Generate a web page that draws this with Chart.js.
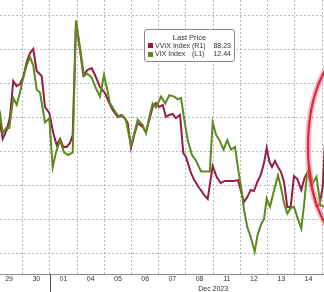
<!DOCTYPE html>
<html><head><meta charset="utf-8">
<script src="https://cdn.jsdelivr.net/npm/chart.js@4.4.1/dist/chart.umd.min.js"></script>
<style>
html,body{margin:0;padding:0;background:#fff;}
#wrap{position:relative;width:324px;height:292px;overflow:hidden;}
canvas{display:block;}
#legend{position:absolute;left:144px;top:29px;width:89px;height:31px;border:1px solid #8a8a8a;border-radius:3px;background:#fff;font-family:"Liberation Sans",Arial,sans-serif;color:#333;}
#legend span{position:absolute;height:9px;line-height:9px;white-space:nowrap;}
.sw{width:5px;height:5px !important;}
</style>
</head><body>
<div id="wrap">
<canvas id="c" width="324" height="292"></canvas>
<div id="legend">
  <span style="left:0;width:89px;text-align:center;top:3px;font-size:7.5px;">Last Price</span>
  <span class="sw" style="left:3px;top:13px;background:#961e3e;"></span>
  <span style="left:10px;top:10.5px;font-size:7px;">VVIX Index</span>
  <span style="left:47px;top:10.5px;font-size:7px;">(R1)</span>
  <span style="right:3px;top:10.5px;font-size:7px;">88.23</span>
  <span class="sw" style="left:3px;top:21.5px;background:#5c8a1e;"></span>
  <span style="left:10px;top:19.3px;font-size:7px;">VIX Index</span>
  <span style="left:47px;top:19.3px;font-size:7px;">(L1)</span>
  <span style="right:3px;top:19.3px;font-size:7px;">12.44</span>
</div>
</div>
<script>
const dayLabels = ['29','30','01','04','05','06','07','08','11','12','13','14'];
const monthLabel = 'Dec 2023';
const vixGrid = [11.75,12,12.25,12.5,12.75,13,13.25,13.5];

const vixTime = [-0.463,-0.334,-0.235,-0.114,0.007,0.154,0.279,0.401,0.522,0.647,
0.768,0.889,1.014,1.136,1.319,1.477,1.602,1.724,1.871,2.018,
2.176,2.337,2.459,2.606,2.753,2.874,3.036,3.194,3.341,3.488,
3.598,3.708,3.807,3.929,4.050,4.175,4.296,4.480,4.601,4.726,
4.910,5.031,5.152,5.277,5.399,5.583,5.741,5.887,6.071,6.196,
6.318,6.439,6.564,6.722,6.869,7.052,7.236,7.375,7.482,7.604,
7.732,7.880,8.019,8.155,8.302,8.431,8.523,8.633,8.754,8.879,
9.026,9.129,9.258,9.368,9.467,9.588,9.735,9.882,9.993,10.103,
10.224,10.349,10.470,10.599,10.739,10.838,10.937,11.040,11.150,11.297,
11.444,11.573,11.701];
const vixValues = [12.88,12.78,12.63,12.67,12.67,12.89,12.84,12.93,13.04,13.13,
13.19,13.13,12.95,12.93,12.71,12.74,12.38,12.49,12.58,12.49,
12.47,12.49,13.46,13.26,13.05,13.07,13.04,12.96,12.90,13.06,
12.96,12.85,12.82,12.78,12.75,12.76,12.73,12.54,12.63,12.73,
12.69,12.63,12.75,12.85,12.82,12.90,12.85,12.91,12.90,12.88,
12.89,12.73,12.58,12.47,12.43,12.35,12.35,12.35,12.71,12.62,
12.58,12.51,12.58,12.51,12.53,12.35,12.24,12.07,11.94,11.87,
11.76,11.88,11.96,12.00,12.15,12.09,12.21,12.32,12.23,12.12,
12.04,12.08,12.09,12.01,11.93,12.10,12.31,12.38,12.26,12.31,
12.10,12.09,12.10];

const vvixTime = [-0.463,-0.334,-0.235,-0.088,0.033,0.154,0.279,0.401,0.522,0.647,
0.768,0.889,1.014,1.198,1.319,1.477,1.624,1.749,1.871,1.992,
2.117,2.238,2.337,2.459,2.606,2.727,2.874,3.036,3.157,3.341,
3.524,3.682,3.807,3.991,4.112,4.234,4.359,4.480,4.601,4.726,
4.910,5.031,5.152,5.277,5.399,5.520,5.645,5.766,5.887,6.012,
6.134,6.281,6.402,6.501,6.685,6.806,6.990,7.174,7.299,7.482,
7.630,7.777,7.935,8.118,8.265,8.412,8.512,8.633,8.754,8.879,
9.000,9.122,9.247,9.368,9.467,9.570,9.662,9.772,9.882,9.993,
10.103,10.224,10.349,10.470,10.592,10.739,10.856,10.967,11.058,11.169,
11.290,11.407,11.525,11.647];
const vvixValues = [88.29,87.65,86.71,87.24,88.00,90.12,89.82,89.94,90.35,91.24,
91.76,92.00,90.71,90.41,88.59,88.24,87.06,86.35,86.71,86.24,
86.24,86.47,86.94,93.65,91.94,90.47,90.76,90.88,90.47,89.76,
89.41,88.82,88.41,88.00,88.12,87.94,87.65,86.18,86.94,87.65,
87.41,87.12,87.82,88.59,88.82,88.59,88.71,88.00,88.12,88.18,
87.94,88.12,85.88,85.65,84.71,84.29,83.82,83.41,83.18,85.12,
84.47,84.12,84.24,84.24,84.24,84.29,83.71,83.00,83.29,83.71,
83.65,84.18,84.59,85.29,86.18,85.35,85.06,85.41,85.06,84.76,
84.18,82.71,82.71,84.53,84.35,83.71,84.41,84.76,84.29,83.59,
82.76,82.82,83.88,87.82];

const FONT = '"Liberation Sans", Arial, sans-serif';

const decor = {
  id: 'decor',
  afterDraw(chart) {
    const {ctx, chartArea, scales: {x, y}} = chart;
    ctx.save();
    const sx = Math.round(x.getPixelForValue(1.5)) + 0.5;
    ctx.strokeStyle = '#555';
    ctx.lineWidth = 1;
    ctx.beginPath();
    ctx.moveTo(sx, chartArea.bottom);
    ctx.lineTo(sx, chart.height);
    ctx.stroke();
    ctx.fillStyle = '#333';
    ctx.font = '7px ' + FONT;
    ctx.textAlign = 'center';
    ctx.textBaseline = 'middle';
    ctx.fillText(monthLabel, x.getPixelForValue(7.5), chartArea.bottom + 15);
    const cx = x.getPixelForValue(12.53), cy = y.getPixelForValue(12.53);
    ctx.beginPath();
    ctx.ellipse(cx, cy, 42, 95, 0, 0, Math.PI * 2);
    ctx.strokeStyle = 'rgba(250,130,150,0.5)';
    ctx.lineWidth = 6;
    ctx.stroke();
    ctx.beginPath();
    ctx.ellipse(cx, cy, 42, 95, 0, 0, Math.PI * 2);
    ctx.strokeStyle = '#e0263c';
    ctx.lineWidth = 2.2;
    ctx.stroke();
    ctx.restore();
  }
};

new Chart(document.getElementById('c'), {
  type: 'line',
  data: {
    datasets: [
      {
        label: 'VIX Index (L1)',
        data: vixTime.map((t, i) => ({x: t, y: vixValues[i]})),
        borderColor: '#5c8a1e',
        borderWidth: 2,
        pointRadius: 0,
        tension: 0,
        yAxisID: 'y'
      },
      {
        label: 'VVIX Index (R1)',
        data: vvixTime.map((t, i) => ({x: t, y: vvixValues[i]})),
        borderColor: '#961e3e',
        borderWidth: 2,
        pointRadius: 0,
        tension: 0,
        yAxisID: 'y1'
      }
    ]
  },
  options: {
    responsive: false,
    devicePixelRatio: 1,
    animation: false,
    layout: {padding: 0},
    plugins: {legend: {display: false}, tooltip: {enabled: false}},
    scales: {
      x: {
        type: 'linear',
        position: 'bottom',
        min: -0.334,
        max: 11.573,
        afterBuildTicks: s => {
          const t = [];
          for (let k = 0; k < dayLabels.length; k++) { t.push({value: k}); t.push({value: k + 0.5}); }
          s.ticks = t;
        },
        afterFit: s => { s.height = 18; },
        grid: {
          drawTicks: false,
          lineWidth: 1,
          color: c => (c.tick && c.tick.value % 1 !== 0) ? '#b8b8b8' : 'rgba(0,0,0,0)'
        },
        border: {display: true, color: '#8c8c8c', width: 1, dash: [2, 2]},
        ticks: {
          autoSkip: false, maxRotation: 0, minRotation: 0, padding: 1,
          color: '#333',
          font: {family: FONT, size: 7},
          callback: v => Number.isInteger(v) ? dayLabels[v] : ''
        }
      },
      y: {
        type: 'linear',
        position: 'left',
        min: 11.5956,
        max: 13.6103,
        afterBuildTicks: s => { s.ticks = vixGrid.map(v => ({value: v})); },
        afterFit: s => { s.width = 0; },
        grid: {drawTicks: false, color: '#b8b8b8', lineWidth: 1},
        border: {display: false, dash: [2, 2]},
        ticks: {display: false}
      },
      y1: {
        type: 'linear',
        position: 'right',
        display: false,
        min: 78.765,
        max: 94.882
      }
    }
  },
  plugins: [decor]
});
</script>
</body></html>
